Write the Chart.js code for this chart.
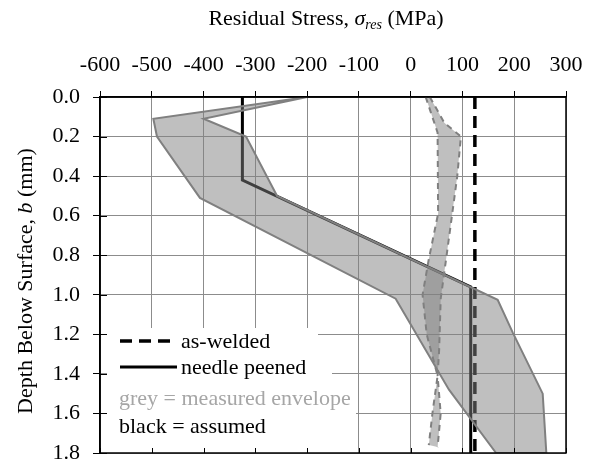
<!DOCTYPE html>
<html lang="en">
<head>
    <meta charset="UTF-8">
    <title>Residual Stress vs Depth</title>
    <script src="https://cdn.jsdelivr.net/npm/chart.js"></script>
    <style>
        html, body { margin: 0; padding: 0; background: #fff; }
        #wrap { width: 589px; height: 461px; position: relative; }
    </style>
</head>
<body>
    <div id="wrap"><canvas id="stressChart"></canvas></div>

    <script>
        // Tick values
        const stressTicks = [-600, -500, -400, -300, -200, -100, 0, 100, 200, 300];
        const depthTicks = [0, 0.2, 0.4, 0.6, 0.8, 1.0, 1.2, 1.4, 1.6, 1.8];

        // Needle peened measured envelope (grey band)
        const npMinDepth = [0, 0.11, 0.2, 0.51, 1.02, 1.48, 1.8];
        const npMinStress = [-200, -497, -490, -407, -29, 74, 165];
        const npMaxDepth = [0, 0.11, 0.2, 0.5, 1.025, 1.19, 1.5, 1.8];
        const npMaxStress = [-200, -400, -318, -258, 168, 197, 255, 262];

        // As-welded measured envelope (grey dashed band)
        const awMinDepth = [0, 0.18, 0.59, 0.82, 1.0, 1.2, 1.41, 1.6, 1.76];
        const awMinStress = [29, 52, 53, 35, 23, 31, 52, 42, 35];
        const awMaxDepth = [0, 0.13, 0.2, 0.4, 0.77, 1.02, 1.28, 1.41, 1.6, 1.77];
        const awMaxStress = [37, 65, 97, 90, 71, 58, 55, 52, 58, 52];

        // Assumed profiles (black)
        const peenedDepth = [0, 0.42, 0.96, 1.8];
        const peenedStress = [-325, -325, 116, 116];
        const weldedDepth = [0, 1.8];
        const weldedStress = [124, 124];

        const pts = (s, d) => s.map((v, i) => ({ x: v, y: d[i] }));
        const band = (s1, d1, s2, d2) => pts(s1, d1).concat(pts(s2, d2).reverse());

        const serif = '"Liberation Serif", "Times New Roman", serif';
        const shade = 'rgba(128, 128, 128, 0.5)';

        const extras = {
            id: 'extras',
            afterDraw(chart) {
                const ctx = chart.ctx;
                const a = chart.chartArea;
                const xs = chart.scales.x, ys = chart.scales.y;
                ctx.save();

                // legend background
                ctx.fillStyle = '#fff';
                ctx.fillRect(107, 328, 211, a.bottom - 328);
                ctx.fillRect(107, 352, 225, a.bottom - 352);
                ctx.fillRect(107, 384, 249, a.bottom - 384);

                // inner ticks on bottom and left
                ctx.strokeStyle = '#000';
                ctx.lineWidth = 1;
                ctx.beginPath();
                stressTicks.forEach(v => {
                    const px = Math.round(xs.getPixelForValue(v)) + 0.5;
                    ctx.moveTo(px, a.bottom - 5);
                    ctx.lineTo(px, a.bottom);
                });
                depthTicks.forEach(v => {
                    const py = Math.round(ys.getPixelForValue(v)) + 0.5;
                    ctx.moveTo(a.left, py);
                    ctx.lineTo(a.left + 7, py);
                });
                ctx.stroke();

                // frame
                ctx.lineWidth = 1.5;
                ctx.strokeRect(a.left, a.top, a.right - a.left, a.bottom - a.top);

                // legend
                ctx.lineWidth = 3.5;
                ctx.setLineDash([12, 7]);
                ctx.beginPath();
                ctx.moveTo(120, 341); ctx.lineTo(177, 341);
                ctx.stroke();
                ctx.setLineDash([]);
                ctx.lineWidth = 3;
                ctx.beginPath();
                ctx.moveTo(120, 367); ctx.lineTo(177, 367);
                ctx.stroke();

                ctx.font = '22px ' + serif;
                ctx.textBaseline = 'alphabetic';
                ctx.textAlign = 'left';
                ctx.fillStyle = '#000';
                ctx.fillText('as-welded', 181, 348);
                ctx.fillText('needle peened', 181, 374);
                ctx.fillStyle = '#a6a6a6';
                ctx.fillText('grey = measured envelope', 119, 405);
                ctx.fillStyle = '#000';
                ctx.fillText('black = assumed', 119, 433);

                // axis titles with italic symbols
                const drawParts = (parts, cx, cy) => {
                    let w = 0;
                    parts.forEach(p => { ctx.font = p.f; p.w = ctx.measureText(p.t).width; w += p.w; });
                    let x = cx - w / 2;
                    parts.forEach(p => {
                        ctx.font = p.f;
                        ctx.fillText(p.t, x, cy + (p.dy || 0));
                        x += p.w;
                    });
                };
                ctx.fillStyle = '#000';
                drawParts([
                    { t: 'Residual Stress, ', f: '22px ' + serif },
                    { t: 'σ', f: 'italic 22px ' + serif },
                    { t: 'res', f: 'italic 14px ' + serif, dy: 4 },
                    { t: ' (MPa)', f: '22px ' + serif }
                ], 326, 25);

                ctx.translate(32, 281);
                ctx.rotate(-Math.PI / 2);
                drawParts([
                    { t: 'Depth Below Surface, ', f: '22px ' + serif },
                    { t: 'b', f: 'italic 22px ' + serif },
                    { t: ' (mm)', f: '22px ' + serif }
                ], 0, 0);

                ctx.restore();
            }
        };

        new Chart(document.getElementById('stressChart'), {
            type: 'line',
            data: {
                datasets: [
                    {
                        label: 'needle peened envelope',
                        data: band(npMinStress, npMinDepth, npMaxStress, npMaxDepth),
                        borderColor: '#808080',
                        borderWidth: 2,
                        backgroundColor: shade,
                        fill: 'shape',
                        pointRadius: 0,
                        tension: 0
                    },
                    {
                        label: 'as-welded envelope fill',
                        data: band(awMinStress, awMinDepth, awMaxStress, awMaxDepth),
                        borderWidth: 0,
                        borderColor: 'rgba(0,0,0,0)',
                        backgroundColor: shade,
                        fill: 'shape',
                        pointRadius: 0
                    },
                    {
                        label: 'as-welded min',
                        data: pts(awMinStress, awMinDepth),
                        borderColor: '#808080',
                        borderWidth: 2,
                        borderDash: [6, 5],
                        fill: false,
                        pointRadius: 0
                    },
                    {
                        label: 'as-welded max',
                        data: pts(awMaxStress, awMaxDepth),
                        borderColor: '#808080',
                        borderWidth: 2,
                        borderDash: [6, 5],
                        fill: false,
                        pointRadius: 0
                    },
                    {
                        label: 'needle peened',
                        data: pts(peenedStress, peenedDepth),
                        borderColor: '#000',
                        borderWidth: 3,
                        fill: false,
                        pointRadius: 0
                    },
                    {
                        label: 'as-welded',
                        data: pts(weldedStress, weldedDepth),
                        borderColor: '#000',
                        borderWidth: 3.5,
                        borderDash: [12, 7],
                        fill: false,
                        pointRadius: 0
                    }
                ]
            },
            options: {
                responsive: true,
                maintainAspectRatio: false,
                animation: false,
                layout: { padding: { left: 0, top: 0, right: 23, bottom: 8 } },
                plugins: {
                    legend: { display: false },
                    tooltip: { enabled: false }
                },
                scales: {
                    x: {
                        type: 'linear',
                        position: 'top',
                        min: -600,
                        max: 300,
                        afterBuildTicks: s => { s.ticks = stressTicks.map(v => ({ value: v })); },
                        afterFit: s => { s.height = 97; s.paddingLeft = 0; s.paddingRight = 0; },
                        grid: { color: '#8c8c8c', lineWidth: 1, tickColor: '#000', tickLength: 6 },
                        border: { color: '#000', width: 1.5 },
                        ticks: {
                            color: '#000',
                            padding: 13,
                            maxRotation: 0,
                            font: { family: serif, size: 22 }
                        }
                    },
                    y: {
                        type: 'linear',
                        reverse: true,
                        min: 0,
                        max: 1.8,
                        afterBuildTicks: s => { s.ticks = depthTicks.map(v => ({ value: v })); },
                        afterFit: s => { s.width = 100; s.paddingTop = 0; s.paddingBottom = 0; },
                        grid: { color: '#8c8c8c', lineWidth: 1, tickColor: '#000', tickLength: 7 },
                        border: { color: '#000', width: 1.5 },
                        ticks: {
                            color: '#000',
                            padding: 13,
                            callback: v => v.toFixed(1),
                            font: { family: serif, size: 22 }
                        }
                    }
                }
            },
            plugins: [extras]
        });
    </script>
</body>
</html>
